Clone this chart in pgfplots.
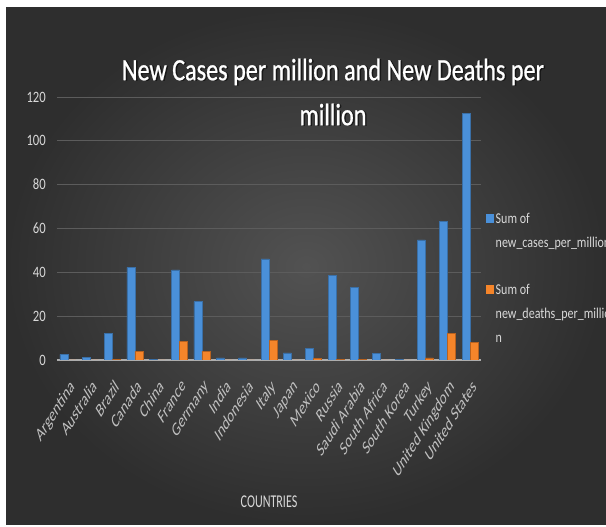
\documentclass[border=0pt]{standalone}
\usepackage{pgfplots}
\usepackage{pgfplotstable}
\pgfplotsset{compat=1.18}
\usepackage{fontspec}
\setmainfont{Carlito}
\newfontfamily\titlefont[FakeStretch=0.78, FakeBold=0.8]{Carlito}
\newfontfamily\tickfont[FakeStretch=0.8]{Carlito}
\newfontfamily\legfont[FakeStretch=0.8]{Carlito}
\newfontfamily\capfont[FakeStretch=0.67]{Carlito}

\definecolor{bgin}{HTML}{525252}
\definecolor{bgout}{HTML}{2E2E2E}
\definecolor{gridc}{HTML}{5C5C5C}
\definecolor{axisc}{HTML}{ADADAD}
\definecolor{txt}{HTML}{D9D9D9}
\definecolor{xtxt}{HTML}{BFBFBF}
\definecolor{cases}{HTML}{4A90D9}
\definecolor{casesedge}{HTML}{3A6FA6}
\definecolor{deaths}{HTML}{F5852A}
\definecolor{deathsedge}{HTML}{B8621F}

% sum of new cases / new deaths per million, by country
\pgfplotstableread{
idx cases deaths
0   2.6   0.1
1   1.1   0.05
2   12.2  0.3
3   42.3  3.8
4   0.3   0.0
5   41.1  8.4
6   26.6  3.8
7   1.0   0.05
8   1.0   0.05
9   46.1  9.1
10  3.2   0.05
11  5.3   0.6
12  38.5  0.4
13  33.2  0.3
14  3.0   0.1
15  0.3   0.0
16  54.8  1.0
17  63.4  12.2
18  112.6 7.9
}\covid

\begin{document}
\begin{tikzpicture}[x=1bp,y=1bp]
\path[use as bounding box] (0,0) rectangle (606,527);
\clip (0,0) rectangle (606,527);
\fill[white] (0,0) rectangle (606,527);
\shade[inner color=bgin, outer color=bgout] (6,2) rectangle (606,519);
% title shadow
\node[anchor=north, inner sep=0pt, align=center, text=black, opacity=0.5,
  font=\titlefont\fontsize{31bp}{45bp}\selectfont] at (334.5,468)
  {New Cases per million and New Deaths per\\million};
\begin{axis}[
  at={(56.8bp,167bp)}, anchor=south west,
  width=424.4bp, height=263bp, scale only axis,
  ybar=0pt, bar width=8bp,
  xmin=-0.5, xmax=18.5, ymin=0, ymax=120,
  xtick={0,...,18},
  xticklabels={Argentina,Australia,Brazil,Canada,China,France,Germany,India,Indonesia,Italy,Japan,Mexico,Russia,Saudi Arabia,South Africa,South Korea,Turkey,United Kingdom,United States},
  ytick={0,20,...,120},
  major tick length=0pt,
  ymajorgrids, grid style={gridc, line width=0.8bp},
  axis x line*=bottom, axis y line*=left,
  x axis line style={axisc, line width=2bp},
  y axis line style={draw=none},
  /pgf/number format/assume math mode=true,
  yticklabel style={font=\tickfont\fontsize{15.8bp}{16bp}\selectfont, text=txt,
    anchor=east, inner sep=0pt, xshift=-10.8bp},
  xticklabel style={xshift=1bp, yshift=-18bp, font=\fontsize{19.5bp}{19.5bp}\selectfont,
    text=xtxt, anchor=north east, inner sep=0pt, xscale=0.63, rotate=45},
  title={New Cases per million and New Deaths per\\million},
  title style={at={(0.6508,1.1407)}, anchor=north, yshift=-4.5bp, inner sep=0pt,
    align=center, text=white, font=\titlefont\fontsize{31bp}{45bp}\selectfont},
  xlabel={COUNTRIES},
  xlabel style={at={(0.5,-0.5627)}, anchor=base, inner sep=0pt, text=txt,
    font=\capfont\fontsize{18bp}{18bp}\selectfont},
  legend style={at={(1.0113,0.5600)}, anchor=north west, draw=none, fill=none,
    inner sep=0pt, text=txt, font=\legfont\fontsize{15bp}{24bp}\selectfont,
    column sep=2bp, row sep=35bp,
    nodes={inner sep=0pt, anchor=north west}, cells={align=left}},
]
\addplot[fill=cases, draw=casesedge, line width=0.5bp,
  legend image code/.code={\fill[cases] (0bp,-9bp) rectangle (7bp,-1bp);}]
  table[x=idx, y=cases] {\covid};
\addlegendentry{Sum of\\new\_cases\_per\_million}
\addplot[fill=deaths, draw=deathsedge, line width=0.5bp,
  legend image code/.code={\fill[deaths] (0bp,-9bp) rectangle (7bp,-1bp);}]
  table[x=idx, y=deaths] {\covid};
\addlegendentry{Sum of\\new\_deaths\_per\_millio\\n}
\end{axis}
\end{tikzpicture}
\end{document}
